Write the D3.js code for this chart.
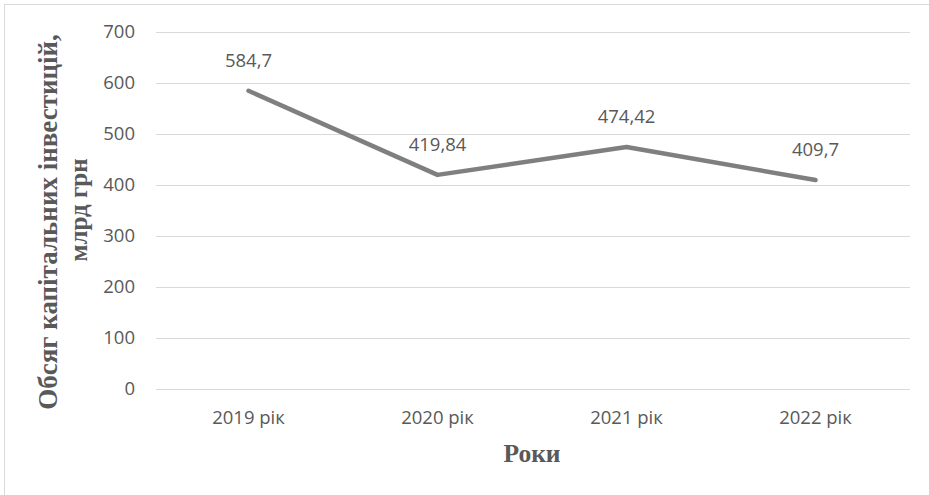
<!DOCTYPE html>
<html><head><meta charset="utf-8">
<script src="https://cdn.jsdelivr.net/npm/d3@7"></script>
<style>body{margin:0;background:#fff}svg{display:block}</style>
</head><body>
<script>
const categories = ["2019 рік","2020 рік","2021 рік","2022 рік"];
const values = [584.7, 419.84, 474.42, 409.7];
const valueLabels = ["584,7","419,84","474,42","409,7"];
const yTicks = [0,100,200,300,400,500,600,700];
const xTitle = "Роки";
const yTitle = ["Обсяг капітальних інвестицій,","млрд грн"];

(function(){
const W = 929, H = 495;
const svg = d3.select("body").append("svg").attr("width", W).attr("height", H);
svg.append("rect").attr("x",4.5).attr("y",4.5).attr("width",W+10).attr("height",H+10)
  .attr("fill","#fff").attr("stroke","#d9d9d9").attr("stroke-width",1);

const pL = 154, pR = 910, pT = 32, pB = 389;
const x = d3.scaleBand().domain(categories).range([pL,pR]);
const y = d3.scaleLinear().domain([0,700]).range([pB,pT]);
const lblFont = "'Open Sans',sans-serif", lblSize = "18.5px";

const grid = svg.append("g");
grid.selectAll("line").data(yTicks).join("line")
  .attr("x1",pL+2).attr("x2",pR)
  .attr("y1",d=>Math.round(y(d))+0.5).attr("y2",d=>Math.round(y(d))+0.5)
  .attr("stroke","#d9d9d9").attr("stroke-width",1);

const yAxis = svg.append("g").attr("transform",`translate(${pL},0)`)
  .call(d3.axisLeft(y).tickValues(yTicks).tickSize(0).tickPadding(19));
yAxis.select(".domain").remove();
yAxis.selectAll("text").attr("fill","#595959").style("font-family",lblFont).style("font-size",lblSize);

const xAxis = svg.append("g").attr("transform",`translate(0,${pB})`)
  .call(d3.axisBottom(x).tickSize(0).tickPadding(22));
xAxis.select(".domain").remove();
xAxis.selectAll("text").attr("fill","#595959").style("font-family",lblFont).style("font-size",lblSize);

const line = d3.line().x((d,i)=>x(categories[i])+x.bandwidth()/2).y(d=>y(d));
svg.append("path").datum(values).attr("d",line).attr("fill","none")
  .attr("stroke","#7f7f7f").attr("stroke-width",4.5).attr("stroke-linejoin","round").attr("stroke-linecap","round");

svg.append("g").selectAll("text").data(values).join("text")
  .attr("x",(d,i)=>x(categories[i])+x.bandwidth()/2)
  .attr("y",d=>y(d)-24)
  .attr("text-anchor","middle").attr("fill","#595959")
  .style("font-family",lblFont).style("font-size",lblSize)
  .text((d,i)=>valueLabels[i]);

svg.append("text").attr("x",532).attr("y",462).attr("text-anchor","middle")
  .attr("fill","#595959").style("font-family","'Liberation Serif',serif").style("font-weight","bold").style("font-size","25.5px")
  .text(xTitle);

const yt = svg.append("text").attr("transform","translate(0,222) rotate(-90)")
  .attr("text-anchor","middle").attr("fill","#595959")
  .style("font-family","'Liberation Serif',serif").style("font-weight","bold").style("font-size","27px");
yt.append("tspan").attr("x",0).attr("y",57).text(yTitle[0]);
yt.append("tspan").attr("x",12).attr("y",87).style("font-size","25px").text(yTitle[1]);
})();
</script>
</body></html>
